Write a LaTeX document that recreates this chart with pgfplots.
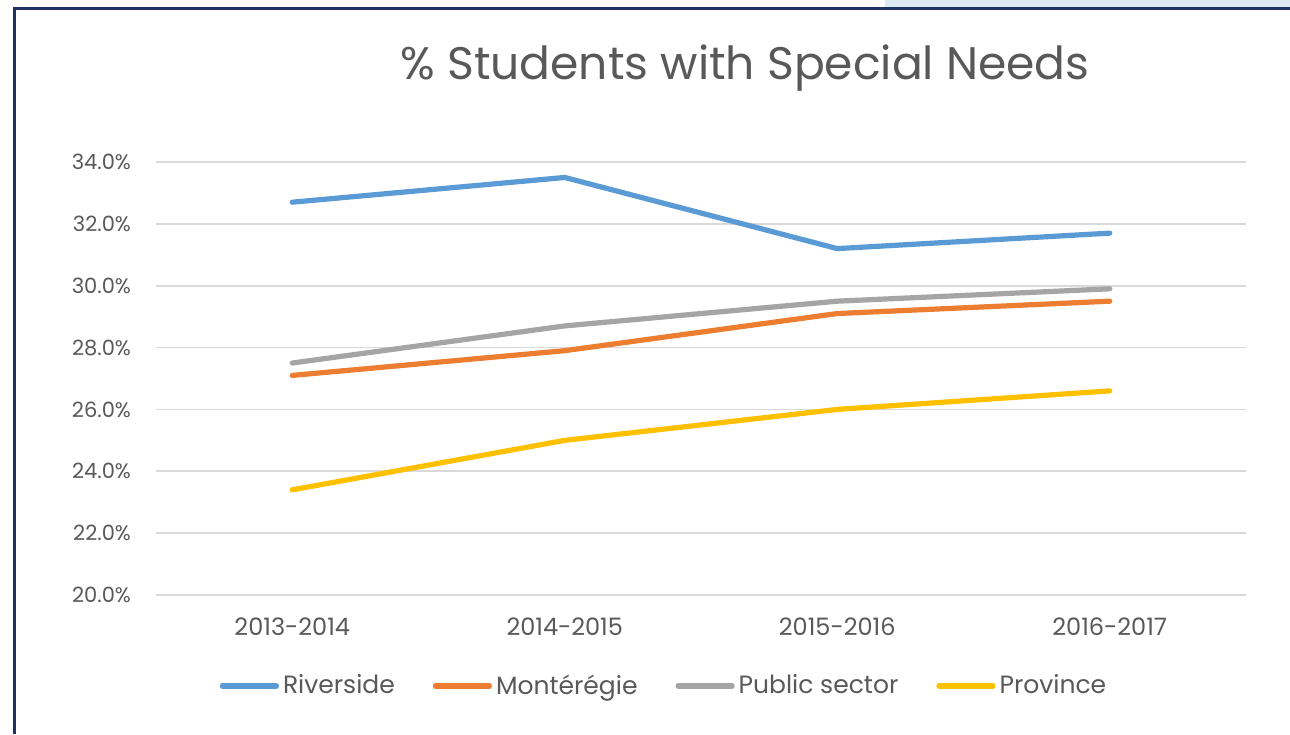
\documentclass[border=0pt]{standalone}
\usepackage{pgfplots}
\pgfplotsset{compat=1.18}
\usepackage{fontspec}
\setmainfont{Poppins}
\definecolor{cRiv}{HTML}{5B9BD5}
\definecolor{cMon}{HTML}{ED7D31}
\definecolor{cPub}{HTML}{A5A5A5}
\definecolor{cPro}{HTML}{FFC000}
\definecolor{txt}{HTML}{595959}
\definecolor{gridc}{HTML}{D9D9D9}
\definecolor{navy}{HTML}{1F3160}
\definecolor{lblue}{HTML}{DCEBF3}
\begin{document}
\begin{tikzpicture}
\useasboundingbox (0pt,0pt) rectangle (645pt,367pt);
\fill[white] (0pt,0pt) rectangle (645pt,367pt);
\fill[lblue] (442.5pt,362pt) rectangle (645pt,367pt);
\fill[white] (8pt,0pt) rectangle (645pt,362pt);
\draw[navy, line width=1.5pt] (7.25pt,0pt) -- (7.25pt,362.75pt) -- (645pt,362.75pt);
\begin{axis}[
  at={(78pt,69.5pt)}, anchor=south west,
  scale only axis, width=545pt, height=216.5pt,
  xmin=-0.5, xmax=3.5, ymin=20, ymax=34,
  xtick={0,1,2,3}, xticklabels={2013-2014,2014-2015,2015-2016,2016-2017},
  ytick={20,22,...,34},
  yticklabel={\pgfmathprintnumber[fixed,fixed zerofill,precision=1]{\tick}\%},
  /pgf/number format/assume math mode=true,
  axis line style={draw=none},
  major tick length=0pt,
  xmajorgrids=false, ymajorgrids=true,
  major grid style={draw=gridc, line width=0.8pt},
  tick label style={text=txt},
  yticklabel style={font=\fontsize{10.5}{12}\selectfont, xshift=-9pt},
  xticklabel style={font=\fontsize{12}{14}\selectfont, yshift=-8pt},
  legend style={at={(0.467,-0.21)}, anchor=center, draw=none, legend columns=4,
    font=\fontsize{12.5}{14}\selectfont, text=txt,
    nodes={inner xsep=2pt},
    /tikz/every even column/.append style={column sep=17pt}},
  legend image code/.code={\draw[#1, line width=2.6pt, line cap=round] (0pt,0pt) -- (27pt,0pt);},
  every axis plot/.append style={line width=2.6pt, line cap=round, line join=round, mark=none},
  clip=false,
]
\addplot[cRiv] coordinates {(0,32.7) (1,33.5) (2,31.2) (3,31.7)};
\addlegendentry{Riverside}
\addplot[cMon] coordinates {(0,27.1) (1,27.9) (2,29.1) (3,29.5)};
\addlegendentry{Montérégie}
\addplot[cPub] coordinates {(0,27.5) (1,28.7) (2,29.5) (3,29.9)};
\addlegendentry{Public sector}
\addplot[cPro] coordinates {(0,23.4) (1,25.0) (2,26.0) (3,26.6)};
\addlegendentry{Province}
\end{axis}
\node[text=txt, font=\fontsize{22.8}{27}\selectfont] at (372.5pt,333pt) {\% Students with Special Needs};
\end{tikzpicture}
\end{document}
